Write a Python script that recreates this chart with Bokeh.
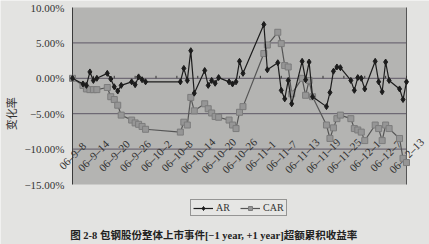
import numpy as np
import pandas as pd
from bokeh.plotting import figure
from bokeh.models import (Range1d, Legend, LegendItem, Label,
                          ColumnDataSource, BoxAnnotation)
from bokeh.core.properties import value
from bokeh.embed import file_html
from bokeh.resources import INLINE

# Trading days around the listing event
dates = [
    "2006-09-08", "2006-09-11", "2006-09-12", "2006-09-13", "2006-09-14", "2006-09-15",
    "2006-09-18", "2006-09-19", "2006-09-20", "2006-09-21", "2006-09-22",
    "2006-09-25", "2006-09-26", "2006-09-27", "2006-09-28", "2006-09-29",
    "2006-10-09", "2006-10-10", "2006-10-11", "2006-10-12", "2006-10-13",
    "2006-10-16", "2006-10-17", "2006-10-18", "2006-10-19", "2006-10-20",
    "2006-10-23", "2006-10-24", "2006-10-25", "2006-10-26", "2006-10-27",
    "2006-11-02", "2006-11-03",
    "2006-11-06", "2006-11-07", "2006-11-08", "2006-11-09", "2006-11-10",
    "2006-11-13", "2006-11-14", "2006-11-15", "2006-11-16",
    "2006-11-20", "2006-11-21", "2006-11-22", "2006-11-23", "2006-11-24",
    "2006-11-27", "2006-11-28", "2006-11-29", "2006-11-30", "2006-12-01",
    "2006-12-04", "2006-12-05", "2006-12-06", "2006-12-07", "2006-12-08",
    "2006-12-11", "2006-12-12", "2006-12-13",
]

# Abnormal return, %
ar = [
    0.0, -0.8, -1.0, 0.9, -0.3, 0.0,
    0.7, -0.1, -1.2, -1.8, -1.0,
    -0.5, -0.9, 0.2, -0.2, -0.5,
    -0.5, 1.4, -0.3, 3.9, -2.1,
    1.1, -1.0, -0.3, -0.7, 0.1,
    -0.5, -0.8, -0.5, 2.4, 0.7,
    7.6, 1.2,
    2.2, -1.7, -2.9, -0.3, -3.6,
    2.4, -0.2, 2.3, -2.6,
    -4.0, -2.0, 1.0, 1.6, 1.5,
    -0.3, -1.7, 0.1, 0.0, -1.5,
    2.4, -0.5, -1.9, 2.3, -0.3,
    -1.5, -3.0, -0.5,
]

# Cumulative abnormal return, %
car = [
    0.0, -1.0, -1.5, -1.6, -1.6, -1.6,
    -1.3, -2.6, -3.0, -3.8, -5.2,
    -5.9, -6.3, -6.5, -6.8, -7.2,
    -7.6, -6.2, -6.6, -2.7, -4.6,
    -3.6, -4.3, -4.9, -5.4, -5.5,
    -5.9, -6.6, -7.1, -4.8, -4.0,
    3.5, 4.7,
    6.5, 4.9, 1.8, 1.6, -2.2,
    0.0, -2.4, -0.3, -2.6,
    -6.6, -8.5, -7.0, -5.7, -5.2,
    -5.7, -7.1, -7.3, -7.6, -8.8,
    -6.6, -7.1, -8.8, -6.6, -7.1,
    -8.5, -11.3, -11.9,
]

tick_dates = [
    "2006-09-08", "2006-09-14", "2006-09-20", "2006-09-26", "2006-10-02",
    "2006-10-08", "2006-10-14", "2006-10-20", "2006-10-26", "2006-11-01",
    "2006-11-07", "2006-11-13", "2006-11-19", "2006-11-25", "2006-12-01",
    "2006-12-07", "2006-12-13",
]
tick_labels = [
    "06–9–8", "06–9–14", "06–9–20", "06–9–26", "06–10–2",
    "06–10–8", "06–10–14", "06–10–20", "06–10–26", "06–11–1",
    "06–11–7", "06–11–13", "06–11–19", "06–11–25", "06–12–1",
    "06–12–7", "06–12–13",
]

y_ticks = [-15, -10, -5, 0, 5, 10]
y_tick_labels = ["−15.00%", "−10.00%", "−5.00%", "0.00%", "5.00%", "10.00%"]
grid_ticks = [-10, -5, 0, 5]
date_axis_level = -5   # the date labels hang from this line

DAY = 86400000.0
x = pd.to_datetime(dates)
tx = pd.to_datetime(tick_dates)
tx_ms = [t.value / 1e6 for t in tx]
x0, x1 = tx_ms[0], tx_ms[-1]
y0, y1 = y_ticks[0], y_ticks[-1]

W, H = 429, 244
# plotting region inside the canvas: left 72, right 406, top 7, bottom 184 (px)
px_per_day = (406 - 72) / ((x1 - x0) / DAY)
px_per_pct = (184 - 7) / (y1 - y0)
x_range = Range1d(x0 - 72 / px_per_day * DAY, x1 + (W - 406) / px_per_day * DAY)
y_range = Range1d(y0 - (H - 184) / px_per_pct, y1 + 7 / px_per_pct)

p = figure(width=W, height=H, output_backend="svg", toolbar_location=None,
           x_axis_location=None, y_axis_location=None,
           x_range=x_range, y_range=y_range,
           min_border=0)
p.grid.visible = False
p.background_fill_color = "#e3e3e1"
p.border_fill_color = "#e3e3e1"
p.outline_line_color = None

# grey plotting area
p.add_layout(BoxAnnotation(left=x0, right=x1, bottom=y0, top=y1,
                           fill_color="#b4b4b2", fill_alpha=1.0,
                           line_color=None, level="underlay"))

# horizontal gridlines across the plotting area
p.segment(x0=[x0] * len(grid_ticks), y0=grid_ticks,
          x1=[x1] * len(grid_ticks), y1=grid_ticks,
          line_color="#5e5866", line_width=1)

# value axis line and right border
p.segment(x0=[x0, x1], y0=[y0, y0], x1=[x0, x1], y1=[y1, y1],
          line_color=["#3a3a3a", "#555555"], line_width=1)

# value axis labels
p.text(x=[x0] * len(y_ticks), y=y_ticks, text=y_tick_labels,
       x_offset=-8, text_align="right", text_baseline="middle",
       text_font=value("Liberation Serif"), text_font_size="11px",
       text_color="#333333")
p.text(x=[x0], y=[date_axis_level], text=["变化率"], angle=np.pi / 2,
       x_offset=-62, text_align="center", text_baseline="middle",
       text_font=value("Noto Sans CJK SC"), text_font_size="11px",
       text_color="#333333")

# small tick marks along the zero line
p.segment(x0=tx, y0=[0] * len(tx), x1=tx, y1=[0.35] * len(tx),
          line_color="#333333", line_width=1)

# rotated date labels hanging below the -5% line
label_y = date_axis_level - 42 / px_per_pct
p.text(x=tx, y=[label_y] * len(tx), text=tick_labels, angle=np.pi / 4,
       text_align="center", text_baseline="middle",
       text_font=value("Liberation Serif"), text_font_size="11px",
       text_color="#2e2e2e")

src = ColumnDataSource(dict(x=x, ar=ar, car=car))

car_line = p.line("x", "car", source=src, line_color="#555555", line_width=1.2)
car_pts = p.scatter("x", "car", source=src, marker="square", size=6,
                    fill_color="#969696", line_color="#7c7c7c")
ar_line = p.line("x", "ar", source=src, line_color="#1c1c1c", line_width=1.2)
ar_pts = p.scatter("x", "ar", source=src, marker="diamond", size=6,
                   fill_color="#1c1c1c", line_color="#1c1c1c")

legend = Legend(items=[LegendItem(label="AR", renderers=[ar_line, ar_pts]),
                       LegendItem(label="CAR", renderers=[car_line, car_pts])],
                location=(190, 28), orientation="horizontal",
                border_line_color="#444444", border_line_width=1,
                background_fill_color="#e6e6e4", background_fill_alpha=1,
                label_text_font="Liberation Serif", label_text_font_size="10px",
                label_text_color="#333333",
                glyph_width=20, glyph_height=10, label_standoff=3,
                padding=2, spacing=4, margin=0)
p.add_layout(legend)

p.add_layout(Label(x=214.5, y=9, x_units="screen", y_units="screen",
                   text="图 2-8  包钢股份整体上市事件[−1 year, +1 year]超额累积收益率",
                   text_font="'Liberation Serif', 'Noto Sans CJK SC'",
                   text_font_size="10.5px", text_font_style="bold",
                   text_color="#222222", text_align="center",
                   text_baseline="middle"))

open("out.html", "w").write(file_html(p, INLINE))
